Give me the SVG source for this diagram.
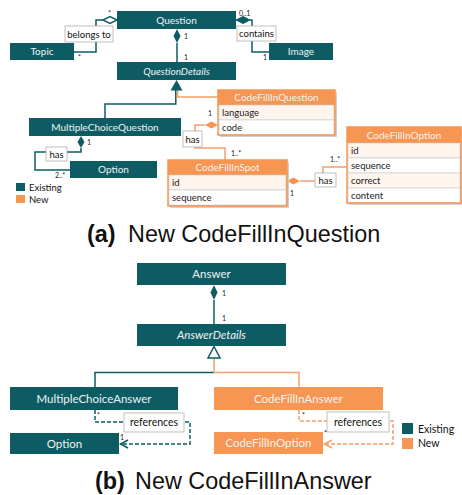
<svg xmlns="http://www.w3.org/2000/svg" width="462" height="495" viewBox="0 0 462 495">
<style>
.t{fill:#0E5C63}
.o{fill:#F79552}
.row1{fill:#FEF5EE;stroke:#C8C8C8;stroke-width:0.6}
.row2{fill:#FFFFFF;stroke:#C8C8C8;stroke-width:0.6}
.ob{fill:none;stroke:#F79552;stroke-width:1.5}
.sh{fill:#D0D0D0}
.wt{font-family:Lato,"Open Sans",sans-serif;font-size:10px;fill:#EEF4F4;text-anchor:middle}
.wb{font-family:Lato,"Open Sans",sans-serif;font-size:11.5px;fill:#EEF4F4;text-anchor:middle}
.it{font-style:italic}
.at{font-family:Lato,"Open Sans",sans-serif;font-size:9.5px;fill:#222}
.lb{font-family:Lato,"Open Sans",sans-serif;font-size:9.5px;fill:#111;text-anchor:middle}
.lbb{font-family:Lato,"Open Sans",sans-serif;font-size:10.5px;fill:#111;text-anchor:middle}
.m{font-family:Lato,"Open Sans",sans-serif;font-size:7px;fill:#222}
.lbox{fill:#fff;stroke:#B0B0B0;stroke-width:0.8}
.ct{fill:none;stroke:#0E5C63;stroke-width:1.5}
.co{fill:none;stroke:#F4A06C;stroke-width:1.5}
.dt{fill:none;stroke:#0E5C63;stroke-width:1.5;stroke-dasharray:4 2}
.do{fill:none;stroke:#F4A06C;stroke-width:1.5;stroke-dasharray:4 2}
.cap{font-family:"Liberation Sans",Arial,sans-serif;font-size:23.4px;fill:#111}
.leg{font-family:Lato,"Open Sans",sans-serif;fill:#111}
</style>

<!-- Connectors -->
<g id="connectors">
  <!-- (a) belongs to -->
  <polyline class="ct" points="103,20 96,20 96,52 74,52"/>
  <polygon points="117,20 110,16.5 103,20 110,23.5" fill="#fff" stroke="#0E5C63" stroke-width="1.5"/>
  <!-- (a) contains -->
  <polyline class="ct" points="250,20 252,20 252,52 269,52"/>
  <polygon points="236,20 243,16.5 250,20 243,23.5" fill="#0E5C63" stroke="#0E5C63" stroke-width="1"/>
  <!-- Question - QuestionDetails -->
  <line class="ct" x1="177" y1="43" x2="177" y2="62"/>
  <polygon points="177,29 180.5,36 177,43 173.5,36" fill="#0E5C63"/>
  <!-- generalization (a) -->
  <polyline class="ct" points="175.8,90 175.8,104 105,104 105,118"/>
  <polyline class="co" points="177.5,90 177.5,97 218,97"/>
  <polygon points="176.5,80 182.5,90.5 170.5,90.5" fill="#0E5C63"/>
  <!-- MCQ - Option -->
  <polyline class="ct" points="81,148 81,152 35,152 35,170 70,170"/>
  <polygon points="81,136 84.5,142 81,148 77.5,142" fill="#0E5C63"/>
  <!-- CFIQ - CFIS -->
  <polyline class="co" points="205,125 195,125 195,148 225,148 225,160"/>
  <polygon points="218,125 211.5,121.5 205,125 211.5,128.5" fill="#F79552"/>
  <!-- CFIS - CFIO -->
  <polyline class="co" points="300,181 323,181 323,167 347,167"/>
  <polygon points="287,181 293.5,177.5 300,181 293.5,184.5" fill="#F79552"/>

  <!-- (b) Answer - AnswerDetails -->
  <line class="ct" x1="214" y1="300" x2="214" y2="324"/>
  <polygon points="214,285 217.5,292.5 214,300 210.5,292.5" fill="#0E5C63"/>
  <!-- generalization (b) -->
  <polyline class="ct" points="214,372.5 95,372.5 95,387"/>
  <polyline class="co" points="214,358 214,372.5 299,372.5 299,387"/>
  <polygon points="214,346.5 220,358 208,358" fill="#fff" stroke="#0E5C63" stroke-width="1.5"/>
  <!-- references MCA -> Option -->
  <polyline class="dt" points="95,410 95,422 190,422 190,444 120,444"/>
  <polyline class="ct" points="128,440 120.5,444 128,448"/>
  <!-- references CFIA -> CFIO -->
  <polyline class="do" points="299,410 299,421 393,421 393,444 324,444"/>
  <polyline class="co" points="332,440 324.5,444 332,448"/>

  <!-- labels -->
  <g id="lbl-belongs">
    <rect class="lbox" x="65" y="26" width="48" height="16"/>
    <text class="lb" x="89" y="37.5">belongs to</text>
  </g>
  <g id="lbl-contains">
    <rect class="lbox" x="237" y="26" width="39" height="15"/>
    <text class="lb" x="256.5" y="37">contains</text>
  </g>
  <g id="lbl-has1">
    <rect class="lbox" x="46" y="147" width="21" height="14"/>
    <text class="lb" x="56.5" y="157.5">has</text>
  </g>
  <g id="lbl-has2">
    <rect class="lbox" x="183" y="131" width="19" height="16"/>
    <text class="lb" x="192.5" y="142.5">has</text>
  </g>
  <g id="lbl-has3">
    <rect class="lbox" x="315" y="173" width="21" height="14"/>
    <text class="lb" x="325.5" y="183.5">has</text>
  </g>
  <g id="lbl-ref1">
    <rect class="lbox" x="124" y="413" width="60" height="19"/>
    <text class="lbb" x="154" y="426">references</text>
  </g>
  <g id="lbl-ref2">
    <rect class="lbox" x="327" y="412" width="62" height="20"/>
    <text class="lbb" x="358" y="425.5">references</text>
  </g>

  <!-- multiplicities -->
  <text class="m" x="108" y="16">*</text>
  <text class="m" x="78" y="60">*</text>
  <text class="m" x="239" y="16">0..1</text>
  <text class="m" x="263" y="60">1</text>
  <text class="m" x="184" y="39">1</text>
  <text class="m" x="184" y="60">1</text>
  <text class="m" x="87" y="145">1</text>
  <text class="m" x="55" y="178">2..*</text>
  <text class="m" x="208" y="116">1</text>
  <text class="m" x="231" y="156">1..*</text>
  <text class="m" x="290" y="196">1</text>
  <text class="m" x="330" y="162">1..*</text>
  <text class="m" x="222" y="296">1</text>
  <text class="m" x="222" y="321">1</text>
  <text class="m" x="97" y="418">*</text>
  <text class="m" x="120" y="440">1</text>
  <text class="m" x="302" y="418">*</text>
  <text class="m" x="324" y="436">*</text>
</g>

<!-- (a) nodes -->
<g id="Question">
  <rect class="t" x="117" y="11" width="119" height="18"/>
  <text class="wt" x="176.5" y="23.5">Question</text>
</g>
<g id="QuestionDetails">
  <rect class="t" x="117" y="62" width="119" height="18"/>
  <text class="wt it" x="176.5" y="74.5">QuestionDetails</text>
</g>
<g id="Topic">
  <rect class="t" x="10" y="43" width="64" height="17"/>
  <text class="wt" x="42" y="55">Topic</text>
</g>
<g id="Image">
  <rect class="t" x="269" y="43" width="64" height="17"/>
  <text class="wt" x="301" y="55">Image</text>
</g>
<g id="MultipleChoiceQuestion">
  <rect class="t" x="29" y="118" width="152" height="18"/>
  <text class="wt" x="105" y="130.5">MultipleChoiceQuestion</text>
</g>
<g id="OptionA">
  <rect class="t" x="70" y="161" width="87" height="17"/>
  <text class="wt" x="113.5" y="173">Option</text>
</g>
<g id="CodeFillInQuestion">
  <rect class="sh" x="220" y="92" width="117" height="45"/>
  <rect class="o" x="218" y="90" width="117" height="15"/>
  <rect class="row1" x="219" y="105" width="115" height="15"/>
  <rect class="row2" x="219" y="120" width="115" height="15"/>
  <rect class="ob" x="218" y="90" width="117" height="45"/>
  <text class="wt" x="276.5" y="101">CodeFillInQuestion</text>
  <text class="at" x="222" y="116">language</text>
  <text class="at" x="222" y="131">code</text>
</g>
<g id="CodeFillInSpot">
  <rect class="sh" x="170" y="162" width="119" height="46"/>
  <rect class="o" x="168" y="160" width="119" height="15"/>
  <rect class="row1" x="169" y="175" width="117" height="15"/>
  <rect class="row2" x="169" y="190" width="117" height="15"/>
  <rect class="ob" x="168" y="160" width="119" height="46"/>
  <text class="wt" x="227.5" y="171">CodeFillInSpot</text>
  <text class="at" x="172" y="186">id</text>
  <text class="at" x="172" y="201">sequence</text>
</g>
<g id="CodeFillInOption">
  <rect class="sh" x="349" y="129" width="113" height="76"/>
  <rect class="o" x="347" y="127" width="114" height="16"/>
  <rect class="row1" x="348" y="143" width="112" height="15"/>
  <rect class="row2" x="348" y="158" width="112" height="15"/>
  <rect class="row1" x="348" y="173" width="112" height="15"/>
  <rect class="row2" x="348" y="188" width="112" height="15"/>
  <rect class="ob" x="347" y="127" width="114" height="76"/>
  <text class="wt" x="404" y="138.5">CodeFillInOption</text>
  <text class="at" x="351" y="154">id</text>
  <text class="at" x="351" y="169">sequence</text>
  <text class="at" x="351" y="184">correct</text>
  <text class="at" x="351" y="199">content</text>
</g>
<g id="legendA">
  <rect class="t" x="16" y="183" width="9" height="8"/>
  <text class="leg" x="29" y="190.5" font-size="9.5">Existing</text>
  <rect class="o" x="16" y="195" width="9" height="8"/>
  <text class="leg" x="29" y="202.5" font-size="9.5">New</text>
</g>
<g id="captionA">
  <text class="cap" x="87" y="242" font-weight="bold">(a)</text>
  <text class="cap" x="128" y="242">New CodeFillInQuestion</text>
</g>

<!-- (b) nodes -->
<g id="Answer">
  <rect class="t" x="137" y="263" width="149" height="22"/>
  <text class="wb" x="211.5" y="278">Answer</text>
</g>
<g id="AnswerDetails">
  <rect class="t" x="137" y="324" width="149" height="22"/>
  <text class="wb it" x="211.5" y="339">AnswerDetails</text>
</g>
<g id="MultipleChoiceAnswer">
  <rect class="t" x="10" y="387" width="168" height="23"/>
  <text class="wb" x="94" y="402.5">MultipleChoiceAnswer</text>
</g>
<g id="OptionB">
  <rect class="t" x="10" y="433" width="109" height="21"/>
  <text class="wb" x="64.5" y="447.5">Option</text>
</g>
<g id="CodeFillInAnswer">
  <rect class="o" x="214" y="387" width="169" height="23"/>
  <text class="wb" x="298.5" y="402.5">CodeFillInAnswer</text>
</g>
<g id="CodeFillInOptionB">
  <rect class="o" x="214" y="432" width="109" height="22"/>
  <text class="wb" x="268.5" y="447">CodeFillInOption</text>
</g>
<g id="legendB">
  <rect class="t" x="402" y="423" width="11" height="11"/>
  <text class="leg" x="418" y="432.5" font-size="10.5">Existing</text>
  <rect class="o" x="402" y="438" width="11" height="11"/>
  <text class="leg" x="418" y="447" font-size="10.5">New</text>
</g>
<g id="captionB">
  <text class="cap" x="95" y="489" font-weight="bold">(b)</text>
  <text class="cap" x="135" y="489">New CodeFillInAnswer</text>
</g>
</svg>
